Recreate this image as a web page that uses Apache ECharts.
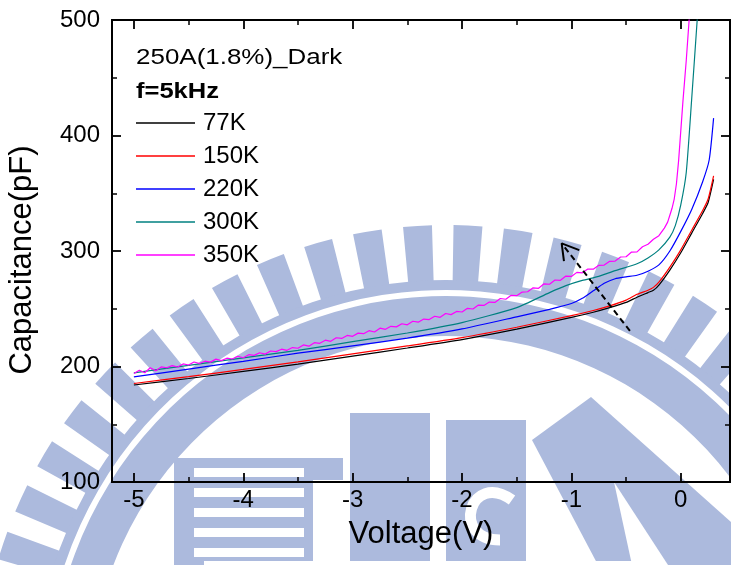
<!DOCTYPE html>
<html>
<head>
<meta charset="utf-8">
<script src="https://cdn.jsdelivr.net/npm/echarts@6/dist/echarts.min.js"></script>
<style>
html, body { margin: 0; padding: 0; background: #fff; }
#chart { width: 731px; height: 565px; }
</style>
</head>
<body>
<div id="chart"></div>
<script>
// C-V sweeps of sample 250A (1.8%) in the dark, f = 5 kHz
// Bias voltage (V) / capacitance (pF) per temperature

const vCold = [-5, -4.5, -4, -3.5, -3, -2.5, -2, -1.5, -1, -0.8, -0.65, -0.5, -0.4, -0.3, -0.25, -0.2, -0.1, 0, 0.1, 0.2, 0.25, 0.3];
const c77  = [184, 189.6, 195.7, 202, 209, 216, 223.3, 232.3, 242.5, 247, 251, 255.5, 260, 264, 266, 270.5, 283.5, 298.5, 315.5, 332.5, 342, 362];
const c150 = [185.3, 191.2, 197.5, 204, 211, 217.8, 225, 234, 244, 248.5, 252.5, 257.5, 262.5, 266, 268.5, 273, 286, 301, 318, 335, 345, 365];

const v220 = [-5, -4.5, -4, -3.5, -3, -2.5, -2, -1.5, -1.2, -1, -0.9, -0.8, -0.7, -0.6, -0.5, -0.4, -0.3, -0.2, -0.1, 0, 0.1, 0.2, 0.26, 0.3];
const c220 = [191, 197.8, 204.5, 211.5, 217.8, 224.5, 232.5, 243, 249.5, 254.5, 259, 265.5, 272, 276, 277.6, 279, 282.5, 288, 300, 317, 336, 360, 379, 415];

const v300 = [-5, -4.5, -4, -3.5, -3, -2.5, -2, -1.5, -1.2, -1.05, -0.9, -0.75, -0.6, -0.4, -0.3, -0.2, -0.1, -0.05, 0, 0.05, 0.1, 0.15, 0.17];
const c300 = [194.5, 201, 207.5, 214, 221.5, 229, 238, 251, 264, 270, 274.5, 278, 283, 289, 294, 301, 312, 322, 340, 368, 432, 500, 530];

const v350 = [
  -5, -4.95, -4.9, -4.85, -4.8, -4.75, -4.7, -4.65, -4.6, -4.55,
  -4.5, -4.45, -4.4, -4.35, -4.3, -4.25, -4.2, -4.15, -4.1, -4.05,
  -4, -3.95, -3.9, -3.85, -3.8, -3.75, -3.7, -3.65, -3.6, -3.55,
  -3.5, -3.45, -3.4, -3.35, -3.3, -3.25, -3.2, -3.15, -3.1, -3.05,
  -3, -2.95, -2.9, -2.85, -2.8, -2.75, -2.7, -2.65, -2.6, -2.55,
  -2.5, -2.45, -2.4, -2.35, -2.3, -2.25, -2.2, -2.15, -2.1, -2.05,
  -2, -1.95, -1.9, -1.85, -1.8, -1.75, -1.7, -1.65, -1.6, -1.55,
  -1.5, -1.45, -1.4, -1.35, -1.3, -1.25, -1.2, -1.15, -1.1, -1.05,
  -1, -0.95, -0.9, -0.85, -0.8, -0.75, -0.7, -0.65, -0.6, -0.55,
  -0.5, -0.45, -0.4, -0.35, -0.3,
  -0.25, -0.2, -0.15, -0.12, -0.1, -0.08, -0.06, -0.04, -0.02, 0, 0.02, 0.05, 0.08
];
const c350 = [
  194.0, 196.8, 194.6, 198.9, 196.4, 199.6, 198.9, 200.8, 199.6, 202.2,
  201.3, 203.9, 202.6, 204.6, 203.8, 206.4, 205.1, 207.2, 206.5, 208.9,
  207.6, 210.2, 209.6, 211.9, 210.7, 213.4, 212.9, 215.0, 214.0, 216.4,
  215.8, 218.7, 217.6, 220.6, 220.1, 222.8, 221.8, 224.9, 224.3, 226.9,
  226.1, 228.9, 228.4, 231.0, 229.9, 233.2, 232.2, 234.8, 234.3, 237.0,
  236.1, 239.2, 238.4, 241.1, 240.6, 243.5, 242.6, 245.9, 244.9, 247.7,
  247.2, 250.4, 249.8, 253.2, 252.9, 255.8, 255.5, 258.9, 258.2, 261.6,
  261.3, 264.4, 264.7, 268.1, 267.7, 271.6, 271.2, 274.9, 274.6, 278.3,
  278.0, 281.5, 281.1, 284.4, 284.3, 287.6, 287.8, 291.1, 291.3, 294.8,
  295.0, 299.1, 299.2, 303.7, 305.8,
  310.2, 313.3, 319.8, 325, 331, 337, 345, 358, 378, 404, 430, 465, 505
];

// dashed trend arrow (tail -> head) and its open arrowhead
const arrowShaft = [[-0.465, 230.8], [-1.089, 306.6]];
const arrowHead = [[-0.928, 300.8], [-1.089, 306.6], [-1.068, 291.3]];

const seriesNames = ['77K', '150K', '220K', '300K', '350K'];
const seriesColors = ['#000000', '#ff0000', '#0000ff', '#008080', '#ff00ff'];

const xMajor = [-5, -4, -3, -2, -1, 0];
const xTickLabels = ['-5', '-4', '-3', '-2', '-1', '0'];
const xMinor = [-4.5, -3.5, -2.5, -1.5, -0.5];
const yTickLabels = ['100', '200', '300', '400', '500'];

const FONT = "'Liberation Sans', Arial, Helvetica, sans-serif";

function pairs(v, c) { return v.map((x, i) => [x, c[i]]); }

// faint university emblem behind the plot
const WM = 'rgb(172,186,221)';
const emblem = [];
for (let k = -16; k <= 16; k++) {
  const mid = (2.7 + k * 6.2) * Math.PI / 180 - Math.PI / 2;
  emblem.push({ type: 'sector', z: -10, shape: { cx: 0, cy: 0, r0: 408, r: 467, startAngle: mid - 0.031, endAngle: mid + 0.031 }, style: { fill: WM } });
}
emblem.push({ type: 'sector', z: -10, shape: { cx: 0, cy: 0, r0: 402, r: 412, startAngle: -Math.PI / 2 - 2, endAngle: -Math.PI / 2 + 2 }, style: { fill: WM } });
emblem.push({ type: 'sector', z: -10, shape: { cx: 0, cy: 0, r0: 356, r: 396, startAngle: -Math.PI / 2 - 2, endAngle: -Math.PI / 2 + 2 }, style: { fill: WM } });

const letters = [
  { type: 'rect', z: -10, shape: { x: 174, y: 458, width: 139, height: 107 }, style: { fill: WM } },
  { type: 'rect', z: -10, shape: { x: 313, y: 458, width: 30, height: 22 }, style: { fill: WM } },
  { type: 'rect', z: -10, shape: { x: 350, y: 413, width: 80, height: 152 }, style: { fill: WM } },
  { type: 'rect', z: -10, shape: { x: 446, y: 420, width: 80, height: 145 }, style: { fill: WM } },
  { type: 'polygon', z: -10, shape: { points: [[532, 440], [591, 397], [740, 530], [740, 565], [598, 565]] }, style: { fill: WM } },
  { type: 'polygon', z: -9, shape: { points: [[614, 482], [632, 565], [668, 565]] }, style: { fill: '#fff' } },
  { type: 'bezierCurve', z: -9, shape: { x1: 512, y1: 500, cpx1: 470, cpy1: 470, cpx2: 450, cpy2: 540, x2: 500, y2: 540 }, style: { stroke: '#fff', lineWidth: 11, fill: null } },
  { type: 'rect', z: -9, shape: { x: 204, y: 561, width: 442, height: 4 }, style: { fill: '#fff' } }
];
[468, 488, 508, 528, 548].forEach(function (y) {
  letters.push({ type: 'rect', z: -9, shape: { x: 194, y: y, width: 110, height: 9 }, style: { fill: '#fff' } });
});

const axisLineStyle = { color: '#000', width: 2 };
const xBase = {
  type: 'value', min: -5.2, max: 0.45, splitLine: { show: false },
  axisLine: { show: true, onZero: false, lineStyle: axisLineStyle }
};
const yBase = {
  type: 'value', min: 100, max: 500, interval: 100, splitLine: { show: false },
  axisLine: { show: true, onZero: false, lineStyle: axisLineStyle },
  axisTick: { show: true, inside: true, length: 9, lineStyle: { color: '#000', width: 1.8 } },
  minorTick: { show: true, inside: true, splitNumber: 2, length: 5, lineStyle: { color: '#000', width: 1.5 } }
};

const chart = echarts.init(document.getElementById('chart'), null, { renderer: 'canvas' });

const lineSeries = [
  [vCold, c77], [vCold, c150], [v220, c220], [v300, c300], [v350, c350]
].map(function (d, i) {
  const jagged = i === 4;
  return {
    name: seriesNames[i], type: 'line', data: pairs(d[0], d[1]),
    symbol: 'none', smooth: jagged ? false : 0.2,
    lineStyle: { color: seriesColors[i], width: 1.2 },
    itemStyle: { color: seriesColors[i] },
    z: 2 + i, animation: false
  };
});

chart.setOption({
  animation: false,
  backgroundColor: '#fff',
  grid: { left: 112, right: 1, top: 20, bottom: 83, containLabel: false, outerBoundsMode: 'none' },
  legend: {
    data: seriesNames, orient: 'vertical', left: 136, top: 111, icon: 'rect',
    itemWidth: 59, itemHeight: 1.4, itemGap: 9, padding: 0, selectedMode: false,
    textStyle: { fontSize: 24, color: '#000', fontFamily: FONT, lineHeight: 24, padding: [0, 0, 0, 3] }
  },
  graphic: [
    { type: 'group', x: 446, y: 692, z: -10, silent: true, children: emblem },
    { type: 'group', z: -10, silent: true, children: letters },
    { type: 'text', x: 136, y: 58, scaleX: 1.18, z: 10,
      style: { text: '250A(1.8%)_Dark', font: '22px ' + FONT, fill: '#000', verticalAlign: 'middle', align: 'left' } },
    { type: 'text', x: 136, y: 92, scaleX: 1.16, z: 10,
      style: { text: 'f=5kHz', font: 'bold 22px ' + FONT, fill: '#000', verticalAlign: 'middle', align: 'left' } }
  ],
  xAxis: [
    Object.assign({}, xBase, {
      position: 'bottom',
      axisTick: { show: true, inside: true, length: 9, customValues: xMajor, lineStyle: { color: '#000', width: 1.8 } },
      axisLabel: {
        show: true, customValues: xMajor, margin: 6, fontSize: 24, color: '#000', fontFamily: FONT,
        formatter: function (v) { return xTickLabels[xMajor.indexOf(v)]; }
      },
      name: 'Voltage(V)', nameLocation: 'middle', nameGap: 37,
      nameTextStyle: { fontSize: 31, color: '#000', fontFamily: FONT }
    }),
    Object.assign({}, xBase, {
      position: 'bottom',
      axisTick: { show: true, inside: true, length: 5, customValues: xMinor, lineStyle: { color: '#000', width: 1.5 } },
      axisLabel: { show: false }
    }),
    Object.assign({}, xBase, {
      position: 'top',
      axisTick: { show: true, inside: true, length: 9, customValues: xMajor, lineStyle: { color: '#000', width: 1.8 } },
      axisLabel: { show: false }
    }),
    Object.assign({}, xBase, {
      position: 'top',
      axisTick: { show: true, inside: true, length: 5, customValues: xMinor, lineStyle: { color: '#000', width: 1.5 } },
      axisLabel: { show: false }
    })
  ],
  yAxis: [
    Object.assign({}, yBase, {
      position: 'left',
      axisLabel: {
        show: true, margin: 12, fontSize: 24, color: '#000', fontFamily: FONT,
        formatter: function (v) { return yTickLabels[Math.round((v - 100) / 100)]; }
      },
      name: 'Capacitance(pF)', nameLocation: 'middle', nameGap: 74, nameRotate: 90,
      nameTextStyle: { fontSize: 31, color: '#000', fontFamily: FONT, padding: [0, 18, 0, 0] }
    }),
    Object.assign({}, yBase, { position: 'right', axisLabel: { show: false } })
  ],
  series: lineSeries.concat([
    {
      type: 'line', data: arrowShaft, symbol: 'none', z: 10,
      lineStyle: { color: '#000', width: 2, type: [6, 4] }, silent: true
    },
    {
      type: 'line', data: arrowHead, symbol: 'none', z: 10,
      lineStyle: { color: '#000', width: 2 }, silent: true
    }
  ])
});
</script>
</body>
</html>
